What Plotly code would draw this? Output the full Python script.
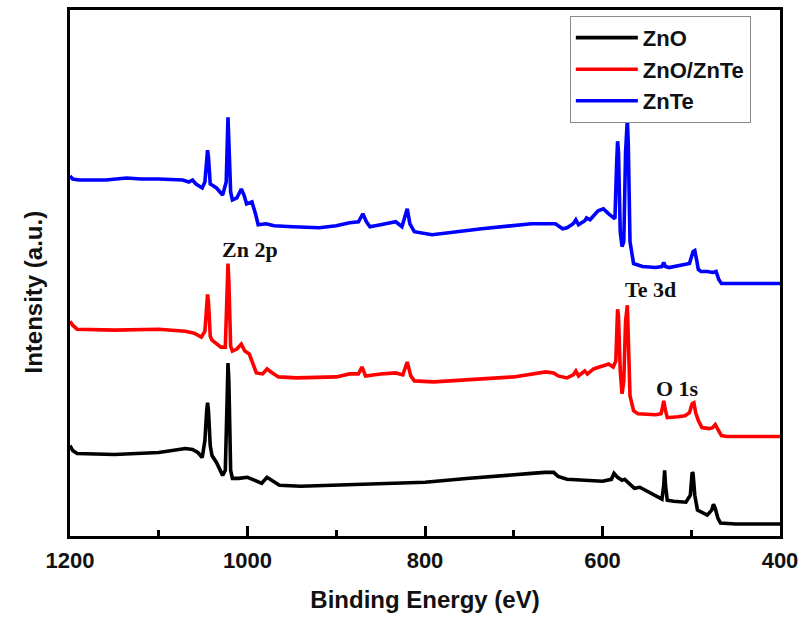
import plotly.graph_objects as go

# Binding energy (eV) sample points for each spectrum
e_zno = [1200, 1197, 1192, 1150, 1100, 1070, 1062, 1056, 1051, 1048, 1046, 1045, 1044, 1042, 1040, 1035,
         1028, 1025, 1023, 1022, 1021, 1019, 1017, 1010, 1000, 990, 984, 978, 972, 964, 940, 900, 850,
         800, 750, 700, 680, 665, 655, 650, 640, 620, 600, 590, 587, 583, 578, 575, 570, 564, 558, 550,
         540, 533, 531, 530, 529, 527, 520, 506, 501, 499, 498, 496, 493, 482, 477, 475, 473, 470, 467,
         450, 400]
i_zno = [91, 86, 83, 82, 84, 88, 87, 84, 79, 96, 126, 134, 126, 91, 81, 74,
         61, 66, 136, 174, 156, 66, 58, 58, 59, 55, 53, 59, 56, 51, 50, 51, 52,
         54, 58, 61, 63, 64, 64, 60, 57, 56, 55, 57, 63, 59, 56, 57, 53, 48, 49, 45,
         40, 37, 51, 66, 51, 36, 35, 34, 41, 64, 63, 41, 26, 21, 26, 32, 28, 18, 13,
         12, 12]

e_znoznte = [1200, 1197, 1192, 1150, 1100, 1070, 1060, 1052, 1048, 1046, 1045, 1044, 1042, 1040, 1030,
             1025, 1023, 1022, 1021, 1019, 1017, 1012, 1007, 1003, 998, 994, 990, 983, 978, 972, 965,
             945, 900, 885, 875, 871, 867, 850, 833, 825, 820, 816, 812, 790, 750, 700, 664, 655, 650,
             640, 633, 630, 627, 620, 617, 610, 600, 593, 588, 585, 583, 582, 580, 578, 576, 574, 572,
             571, 569, 565, 560, 540, 534, 532, 531, 529, 527, 515, 507, 502, 499, 497, 495, 492, 488,
             480, 476, 473, 469, 466, 460, 400]
i_znoznte = [216, 212, 208, 207, 208, 206, 204, 200, 206, 238, 243, 236, 201, 197, 190,
             190, 246, 274, 256, 191, 186, 188, 193, 186, 183, 174, 164, 163, 168, 164, 160,
             159, 160, 163, 163, 170, 161, 163, 164, 162, 175, 161, 156, 155, 157, 160, 165, 164, 161,
             159, 162, 166, 161, 166, 163, 168, 171, 173, 170, 176, 228, 221, 166, 143, 156, 216, 232,
             206, 141, 126, 123, 122, 123, 131, 136, 126, 119, 120, 121, 124, 133, 134, 124, 116, 109,
             108, 109, 112, 106, 101, 100, 100]

e_znte = [1200, 1197, 1190, 1160, 1136, 1120, 1100, 1073, 1066, 1062, 1058, 1051, 1048, 1046, 1045,
          1044, 1042, 1040, 1035, 1028, 1024, 1022, 1021, 1019, 1017, 1012, 1007, 1004, 1001, 997, 995,
          991, 988, 979, 970, 949, 919, 900, 885, 875, 870, 866, 862, 850, 833, 826, 822, 820, 817,
          812, 792, 736, 680, 653, 645, 640, 633, 630, 627, 620, 618, 614, 605, 599, 593, 586, 584,
          583, 582, 580, 578, 576, 574, 572, 571, 569, 565, 555, 540, 533, 531, 529, 525, 515, 507,
          502, 498, 496, 494, 492, 489, 482, 476, 472, 469, 466, 400]
i_znte = [362, 359, 358, 358, 360, 359, 359, 358, 356, 358, 354, 350, 356, 381, 388,
          381, 354, 353, 350, 343, 356, 421, 396, 346, 338, 340, 349, 343, 334, 335, 336,
          324, 313, 314, 312, 311, 310, 312, 315, 316, 324, 316, 311, 313, 316, 311, 322, 329, 314,
          306, 303, 309, 314, 314, 309, 310, 314, 318, 313, 317, 320, 318, 327, 329, 324, 319, 376,
          397, 386, 306, 291, 296, 386, 419, 396, 296, 274, 271, 270, 271, 275, 271, 270, 272, 273,
          274, 286, 287, 278, 268, 266, 266, 265, 266, 258, 254, 254]

series_names = ["ZnO", "ZnO/ZnTe", "ZnTe"]
series_colors = ["#000000", "#ff0000", "#0000ff"]

x_ticks = [1200, 1000, 800, 600, 400]

peak_labels = ["Zn 2p", "Te 3d", "O 1s"]
peak_label_e = [997, 546, 516]
peak_label_i = [288, 248, 148]

fig = go.Figure()
for name, color, ex, iy in zip(series_names, series_colors,
                               [e_zno, e_znoznte, e_znte],
                               [i_zno, i_znoznte, i_znte]):
    fig.add_trace(go.Scatter(x=ex, y=iy, mode="lines", name=name,
                             line=dict(color=color, width=3.6)))

for txt, ex, iy in zip(peak_labels, peak_label_e, peak_label_i):
    fig.add_annotation(x=ex, y=iy, text=txt, showarrow=False,
                       xanchor="center", yanchor="middle",
                       font=dict(family="Liberation Serif, Times New Roman, serif",
                                 size=22, color="#111", weight="bold"))

fig.add_annotation(xref="paper", yref="paper", x=-0.052, y=0.463,
                   xanchor="center", yanchor="middle",
                   text="Intensity (a.u.)", textangle=-90, showarrow=False,
                   font=dict(family="Liberation Sans, Arial, sans-serif", size=24,
                             color="#111", weight="bold"))

fig.update_layout(
    width=805, height=620,
    margin=dict(l=70, r=22, t=7, b=84),
    plot_bgcolor="white", paper_bgcolor="white",
    font=dict(family="Liberation Sans, Arial, sans-serif", color="#111"),
    showlegend=True,
    legend=dict(x=0.704, y=0.989, xanchor="left", yanchor="top",
                bgcolor="white", bordercolor="#8a8a8a", borderwidth=1,
                itemwidth=62,
                font=dict(size=22, weight="bold", family="Liberation Sans, Arial, sans-serif")),
    xaxis=dict(range=[1200, 400], tickvals=x_ticks, ticks="inside", ticklen=10, tickwidth=2.5,
               tickcolor="black",
               minor=dict(ticks="inside", dtick=100, tick0=0, ticklen=6, tickwidth=2.5,
                          tickcolor="black"),
               showline=True, linewidth=3, linecolor="black", mirror=True,
               showgrid=False, zeroline=False,
               ticklabelstandoff=3,
               tickfont=dict(size=22, weight="bold"),
               title=dict(text="Binding Energy (eV)", standoff=19,
                          font=dict(size=24, weight="bold"))),
    yaxis=dict(range=[0, 529], showticklabels=False, ticks="", showline=True,
               linewidth=3, linecolor="black", mirror=True, showgrid=False, zeroline=False),
)

fig.write_html("out.html", config={"displayModeBar": False},
               post_script="document.body.style.margin='0px';")
